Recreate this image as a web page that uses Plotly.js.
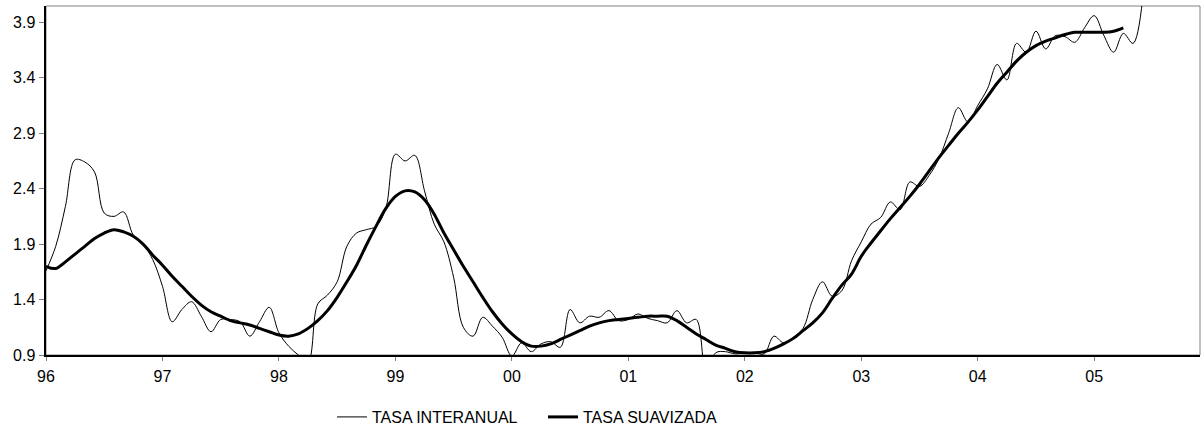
<!DOCTYPE html>
<html>
<head>
<meta charset="utf-8">
<script src="https://cdn.plot.ly/plotly-3.0.1.min.js"></script>
<style>html,body{margin:0;padding:0;background:#fff;}#chart{width:1202px;height:432px;}</style>
</head>
<body>
<div id="chart"></div>
<script>
// Monthly index: 0 = Jan 1996
const tickMonths = [0, 12, 24, 36, 48, 60, 72, 84, 96, 108];
const tickLabels = ["96", "97", "98", "99", "00", "01", "02", "03", "04", "05"];

const tasaInteranual = [
  1.66, 1.88, 2.24, 2.66, 2.64, 2.55, 2.18, 2.15, 2.19, 1.98, 1.90, 1.76,
  1.52, 1.20, 1.31, 1.38, 1.25, 1.11, 1.22, 1.22, 1.20, 1.07, 1.20, 1.33,
  1.10, 0.98, 0.90, 0.84, 1.36, 1.44, 1.56, 1.88, 2.00, 2.03, 2.06, 2.22,
  2.71, 2.65, 2.70, 2.38, 2.08, 1.92, 1.60, 1.15, 1.07, 1.24, 1.16, 1.06,
  0.89, 1.01, 0.93, 1.00, 1.02, 0.97, 1.31, 1.19, 1.25, 1.24, 1.30, 1.21,
  1.22, 1.27, 1.23, 1.21, 1.19, 1.30, 1.19, 1.22, 0.75, 0.92, 0.93, 0.91,
  0.92, 0.92, 0.91, 1.07, 1.01, 1.06, 1.14, 1.40, 1.56, 1.43, 1.48, 1.75,
  1.92, 2.08, 2.14, 2.28, 2.21, 2.46, 2.42, 2.52, 2.67, 2.90, 3.13, 3.00,
  3.15, 3.30, 3.52, 3.38, 3.71, 3.63, 3.82, 3.66, 3.78, 3.77, 3.72, 3.85,
  3.96, 3.78, 3.63, 3.80, 3.71, 4.12
];

const tasaSuavizada = [
  1.70, 1.68, 1.74, 1.81, 1.88, 1.95, 2.00, 2.03, 2.01, 1.97, 1.90, 1.80,
  1.71, 1.61, 1.52, 1.43, 1.35, 1.29, 1.25, 1.21, 1.19, 1.17, 1.14, 1.11,
  1.08, 1.07, 1.09, 1.14, 1.21, 1.30, 1.42, 1.56, 1.71, 1.89, 2.06, 2.22,
  2.33, 2.38, 2.37, 2.30, 2.17, 2.00, 1.85, 1.70, 1.56, 1.42, 1.29, 1.18,
  1.09, 1.02, 0.98, 0.98, 1.00, 1.04, 1.08, 1.12, 1.16, 1.19, 1.21, 1.22,
  1.23, 1.24, 1.25, 1.25, 1.25, 1.21, 1.15, 1.09, 1.04, 0.99, 0.96, 0.93,
  0.92, 0.92, 0.93, 0.96, 1.00, 1.05, 1.12, 1.19, 1.28, 1.41, 1.53, 1.63,
  1.79, 1.91, 2.02, 2.13, 2.23, 2.33, 2.44, 2.56, 2.68, 2.79, 2.90, 3.00,
  3.11, 3.23, 3.35, 3.45, 3.55, 3.63, 3.69, 3.73, 3.76, 3.79, 3.81, 3.81,
  3.81, 3.81, 3.82, 3.85
];

const xInter = tasaInteranual.map((_, i) => i);
const xSuav = tasaSuavizada.map((_, i) => i);

const FONT = "Liberation Sans, Arial, sans-serif";

const traces = [
  {
    x: xInter, y: tasaInteranual, name: "TASA INTERANUAL",
    type: "scatter", mode: "lines",
    line: {color: "#000000", width: 1, shape: "spline", smoothing: 1}
  },
  {
    x: xSuav, y: tasaSuavizada, name: "TASA SUAVIZADA",
    type: "scatter", mode: "lines",
    line: {color: "#000000", width: 3, shape: "spline", smoothing: 1}
  }
];

const layout = {
  width: 1202, height: 432,
  margin: {l: 46, r: 2, t: 6, b: 77, pad: 0, autoexpand: false},
  paper_bgcolor: "#ffffff", plot_bgcolor: "#ffffff",
  font: {family: FONT, size: 16, color: "#000000"},
  showlegend: true,
  legend: {
    orientation: "h", xref: "container", yref: "container",
    x: 0.2762, xanchor: "left", y: 0.0347, yanchor: "middle",
    font: {family: FONT, size: 16, color: "#000000"},
    bgcolor: "rgba(0,0,0,0)", borderwidth: 0,
    traceorder: "normal", entrywidth: 166, entrywidthmode: "pixels"
  },
  xaxis: {
    range: [0, 118.9], showgrid: false, zeroline: false,
    showline: true, linecolor: "#000000", linewidth: 1.5,
    tickmode: "array", tickvals: tickMonths, ticktext: tickLabels,
    ticks: "outside", ticklen: 4, tickcolor: "#808080", tickwidth: 1,
    tickfont: {family: FONT, size: 16, color: "#000000"},
    ticklabelstandoff: 2
  },
  yaxis: {
    range: [0.9, 4.047], showgrid: false, zeroline: false,
    showline: true, linecolor: "#000000", linewidth: 2.5,
    tickmode: "linear", tick0: 0.9, dtick: 0.5, tickformat: ".1f",
    ticks: "outside", ticklen: 5, tickcolor: "#808080", tickwidth: 1,
    tickfont: {family: FONT, size: 16, color: "#000000"}
  },
  shapes: [
    {type: "rect", xref: "paper", yref: "paper", x0: 0, x1: 1, y0: 0, y1: 1,
     line: {color: "#808080", width: 1}, layer: "below"}
  ]
};

Plotly.newPlot("chart", traces, layout, {displayModeBar: false, staticPlot: true});
</script>
</body>
</html>
